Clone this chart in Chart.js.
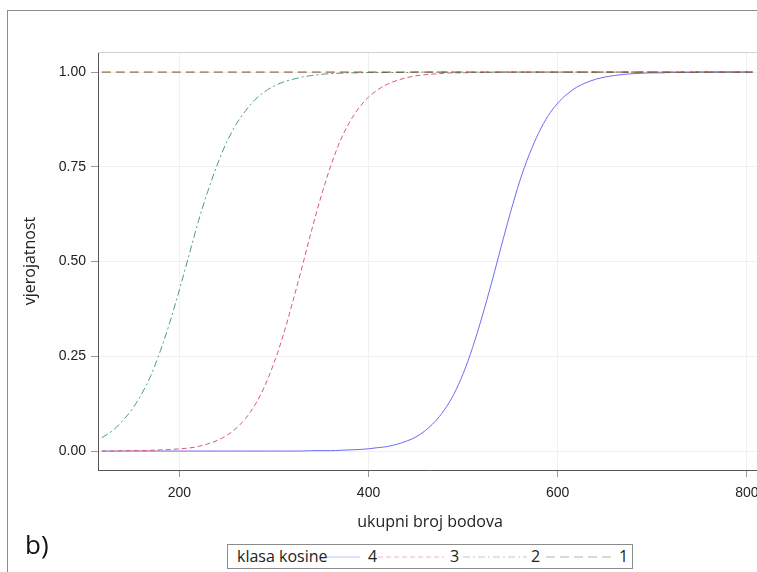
<!DOCTYPE html>
<html>
<head>
<meta charset="utf-8">
<script src="https://cdn.jsdelivr.net/npm/chart.js@4/dist/chart.umd.min.js"></script>
<style>
  body { margin: 0; width: 757px; height: 572px; overflow: hidden; background: #fff; position: relative; }
  #frame { position: absolute; left: 7px; top: 10px; width: 900px; height: 700px; border: 1px solid #8c8c8c; }
  #wrap { position: absolute; left: 0; top: 0; }
  #tag { position: absolute; left: 25px; top: 526px; font: 26px "Open Sans", sans-serif; color: #111; }
  #legend { position: absolute; left: 227px; top: 544px; width: 404px; height: 23px; border: 1px solid #8c8c8c;
            font: 16px "Open Sans", sans-serif; color: #222; background: #fff; }
  #legend span { position: absolute; top: 0; line-height: 23px; }
  #legend svg { position: absolute; top: 11px; }
</style>
</head>
<body>
<div id="frame"></div>
<div id="wrap"><canvas id="mycanvas" width="770" height="572"></canvas></div>
<div id="tag">b)</div>
<div id="legend"></div>
<script>
// ukupni broj bodova (x)
var xs = [118, 130, 140, 150, 160, 170, 180, 190, 200, 210, 220, 230, 240, 250, 260, 270, 280, 290, 300,
          310, 320, 330, 340, 350, 360, 370, 380, 390, 400, 410, 420, 430, 440, 450, 460, 470, 480, 490, 500,
          510, 520, 530, 540, 550, 560, 570, 580, 590, 600, 610, 620, 630, 640, 650, 660, 670, 680, 690, 700,
          710, 720, 730, 740, 750, 760, 770, 780, 790, 800, 806];

// klasa kosine 4
var class4 = [0.000, 0.000, 0.000, 0.000, 0.000, 0.000, 0.000, 0.000, 0.000, 0.000, 0.000, 0.000, 0.000, 0.000, 0.000, 0.000, 0.000, 0.000, 0.000,
              0.000, 0.000, 0.000, 0.001, 0.001, 0.001, 0.002, 0.003, 0.004, 0.006, 0.009, 0.012, 0.018, 0.026, 0.037, 0.054, 0.077, 0.108, 0.149, 0.204,
              0.273, 0.354, 0.443, 0.537, 0.629, 0.713, 0.783, 0.840, 0.885, 0.918, 0.942, 0.960, 0.972, 0.981, 0.987, 0.991, 0.994, 0.996, 0.997, 0.998,
              0.998, 0.999, 0.999, 0.999, 1.000, 1.000, 1.000, 1.000, 1.000, 1.000, 1.000];
// klasa kosine 3
var class3 = [0.000, 0.000, 0.001, 0.001, 0.001, 0.002, 0.003, 0.004, 0.006, 0.008, 0.012, 0.019, 0.028, 0.041, 0.060, 0.086, 0.122, 0.170, 0.232,
              0.307, 0.395, 0.488, 0.584, 0.673, 0.752, 0.818, 0.868, 0.906, 0.934, 0.954, 0.968, 0.978, 0.985, 0.990, 0.993, 0.995, 0.997, 0.998, 0.998,
              0.999, 0.999, 0.999, 1.000, 1.000, 1.000, 1.000, 1.000, 1.000, 1.000, 1.000, 1.000, 1.000, 1.000, 1.000, 1.000, 1.000, 1.000, 1.000, 1.000,
              1.000, 1.000, 1.000, 1.000, 1.000, 1.000, 1.000, 1.000, 1.000, 1.000, 1.000];
// klasa kosine 2
var class2 = [0.035, 0.055, 0.080, 0.110, 0.150, 0.200, 0.265, 0.340, 0.425, 0.515, 0.605, 0.685, 0.755, 0.815, 0.862, 0.898, 0.927, 0.948, 0.963,
              0.974, 0.981, 0.987, 0.991, 0.994, 0.996, 0.997, 0.998, 0.998, 0.999, 0.999, 0.999, 0.999, 0.999, 1.000, 1.000, 1.000, 1.000, 1.000, 1.000,
              1.000, 1.000, 1.000, 1.000, 1.000, 1.000, 1.000, 1.000, 1.000, 1.000, 1.000, 1.000, 1.000, 1.000, 1.000, 1.000, 1.000, 1.000, 1.000, 1.000,
              1.000, 1.000, 1.000, 1.000, 1.000, 1.000, 1.000, 1.000, 1.000, 1.000, 1.000];
// klasa kosine 1 (flat)
var xs1 = [118, 806];
var class1 = [1.000, 1.000];

var xTicks = [200, 400, 600, 800];
var yTicks = [0, 0.25, 0.5, 0.75, 1];

function pts(xv, yv) {
  var out = [];
  for (var i in xv) out.push({ x: xv[i], y: yv[i] });
  return out;
}

var series = [
  { label: "4", data: pts(xs, class4), color: "#6b6bf5", dash: [] },
  { label: "3", data: pts(xs, class3), color: "#dd5878", dash: [5, 3] },
  { label: "2", data: pts(xs, class2), color: "#4f9a88", dash: [7, 3, 2, 3] },
  { label: "1", data: pts(xs1, class1), color: "#7a4a16", dash: [9, 5] }
];

var topLine = {
  id: "topLine",
  afterDraw: function(chart) {
    var a = chart.chartArea, c = chart.ctx;
    c.save();
    c.strokeStyle = "#d0d0d0";
    c.lineWidth = 1;
    c.beginPath();
    c.moveTo(a.left, a.top + 0.5);
    c.lineTo(a.right, a.top + 0.5);
    c.stroke();
    c.restore();
  }
};

var ctx = document.getElementById("mycanvas");
var chart = new Chart(ctx, {
  type: "line",
  data: {
    datasets: series.map(function(s, i) {
      return {
        label: s.label,
        data: s.data,
        borderColor: s.color,
        borderWidth: 1,
        borderDash: s.dash,
        pointRadius: 0,
        fill: false,
        cubicInterpolationMode: "monotone",
        order: 3 - i
      };
    })
  },
  options: {
    responsive: false,
    animation: false,
    layout: { padding: { top: 52, right: 8, left: 0, bottom: 0 } },
    plugins: { legend: { display: false }, tooltip: { enabled: false } },
    scales: {
      x: {
        type: "linear",
        min: 114,
        max: 816,
        afterBuildTicks: function(s) { s.ticks = xTicks.map(function(v) { return { value: v }; }); },
        afterFit: function(s) { s.height = 102; },
        ticks: { color: "#222", padding: 8, font: { family: "Liberation Sans", size: 14 },
                 callback: function(v) { return v; } },
        grid: { color: "#f0f0f0", tickColor: "#999", tickLength: 7 },
        border: { color: "#555" },
        title: { display: true, text: "ukupni broj bodova", color: "#222",
                 font: { family: "Open Sans", size: 16 }, padding: { top: 0, bottom: 40 } }
      },
      y: {
        min: -0.05,
        max: 1.053,
        afterBuildTicks: function(s) { s.ticks = yTicks.map(function(v) { return { value: v }; }); },
        afterFit: function(s) { s.width = 98; },
        ticks: { color: "#222", padding: 5, font: { family: "Liberation Sans", size: 14 },
                 callback: function(v) { return Number(v).toFixed(2); } },
        grid: { color: "#f0f0f0", tickColor: "#999", tickLength: 7 },
        border: { color: "#555" },
        title: { display: true, text: "vjerojatnost", color: "#222",
                 font: { family: "Open Sans", size: 16 }, padding: { top: 21, bottom: 0 } }
      }
    }
  },
  plugins: [topLine]
});

// legenda
var legend = document.getElementById("legend");
var title = document.createElement("span");
title.textContent = "klasa kosine";
title.style.left = "9px";
legend.appendChild(title);
var lineX = [96, 150, 235, 318];
var lineW = [36, 66, 64, 67];
var labX = [140, 222, 303, 391];
series.forEach(function(s, i) {
  var svg = document.createElementNS("http://www.w3.org/2000/svg", "svg");
  svg.setAttribute("width", lineW[i]);
  svg.setAttribute("height", 2);
  svg.style.left = lineX[i] + "px";
  var ln = document.createElementNS("http://www.w3.org/2000/svg", "line");
  ln.setAttribute("x1", 0); ln.setAttribute("y1", 1);
  ln.setAttribute("x2", lineW[i]); ln.setAttribute("y2", 1);
  ln.setAttribute("stroke", s.color);
  ln.setAttribute("stroke-opacity", 0.45);
  ln.setAttribute("stroke-width", 1);
  if (s.dash.length) ln.setAttribute("stroke-dasharray", s.dash.join(" "));
  svg.appendChild(ln);
  legend.appendChild(svg);
  var lab = document.createElement("span");
  lab.textContent = s.label;
  lab.style.left = labX[i] + "px";
  legend.appendChild(lab);
});
</script>
</body>
</html>
